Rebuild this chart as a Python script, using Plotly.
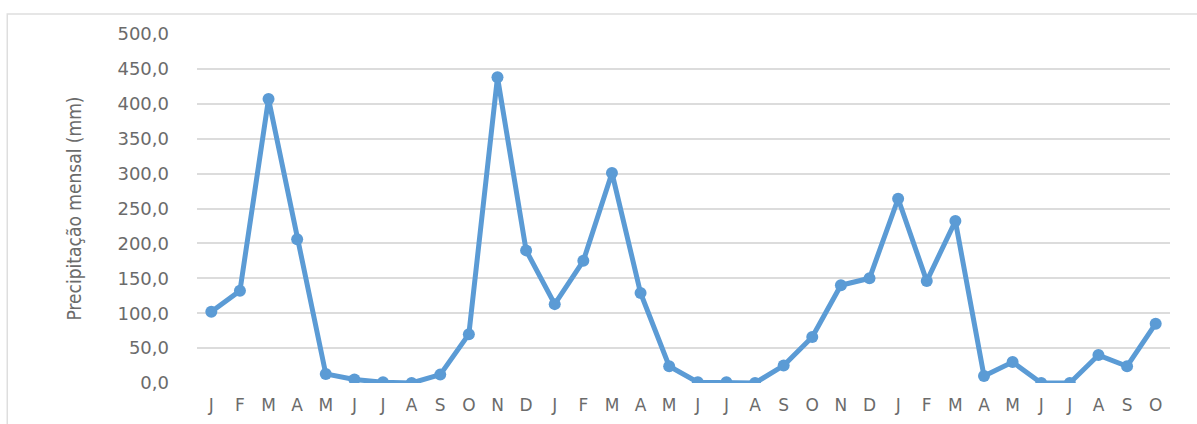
import plotly.graph_objects as go

# Monthly rainfall, Jan of year 1 through Oct of year 3
months = ["J", "F", "M", "A", "M", "J", "J", "A", "S", "O", "N", "D",
          "J", "F", "M", "A", "M", "J", "J", "A", "S", "O", "N", "D",
          "J", "F", "M", "A", "M", "J", "J", "A", "S", "O"]
precip_mm = [102, 132, 407, 206, 13, 5, 1, 0, 12, 70, 438, 190,
             113, 175, 301, 129, 24, 1, 1, 0, 25, 66, 140, 150,
             264, 146, 232, 10, 30, 0, 0, 40, 24, 85]
y_ticks = [0, 50, 100, 150, 200, 250, 300, 350, 400, 450, 500]

positions = list(range(len(months)))

fig = go.Figure(
    go.Scatter(
        x=positions,
        y=precip_mm,
        mode="lines+markers",
        line=dict(color="#5B9BD5", width=5),
        marker=dict(color="#5B9BD5", size=12, symbol="circle"),
        showlegend=False,
    )
)

grey = "#6b6b6b"

fig.update_layout(
    width=1197,
    height=424,
    margin=dict(l=197, r=27, t=34, b=41),
    paper_bgcolor="white",
    plot_bgcolor="white",
    separators=",.",
    font=dict(family="DejaVu Sans, sans-serif", color=grey),
    xaxis=dict(
        range=[-0.5, len(months) - 0.5],
        tickmode="array",
        tickvals=positions,
        ticktext=months,
        showgrid=False,
        zeroline=False,
        showline=False,
        ticks="",
        automargin=False,
        ticklabelstandoff=10,
        tickfont=dict(size=17, color=grey, family="DejaVu Sans, sans-serif"),
    ),
    yaxis=dict(
        range=[0, 500],
        tickmode="array",
        tickvals=y_ticks,
        tickformat=".1f",
        showgrid=True,
        gridcolor="#dcdcdc",
        gridwidth=2,
        zeroline=False,
        showline=False,
        ticks="",
        automargin=False,
        ticklabelstandoff=27,
        tickfont=dict(size=18, color=grey, family="DejaVu Sans, sans-serif"),
        title=dict(
            text="Precipitação mensal (mm)",
            font=dict(size=19, color=grey,
                      family="DejaVu Sans Condensed, Liberation Sans Narrow, sans-serif"),
            standoff=30,
        ),
    ),
    shapes=[
        dict(
            type="rect",
            xref="paper", yref="paper",
            x0=-0.195, x1=1.2, y0=-0.3, y1=1.057,
            line=dict(color="#dedede", width=1.5),
            fillcolor="rgba(0,0,0,0)",
            layer="below",
        )
    ],
)

fig.write_html("out.html")
